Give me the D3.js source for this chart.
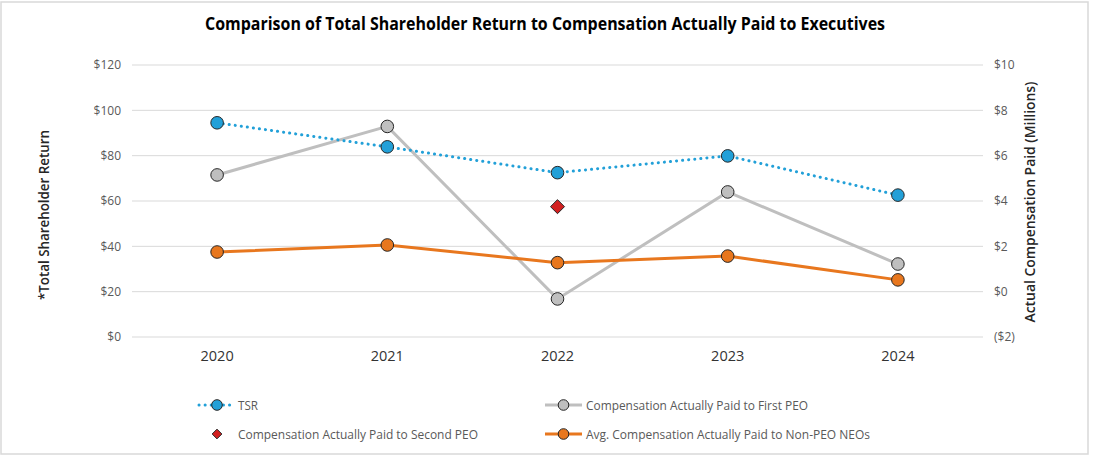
<!DOCTYPE html>
<html><head><meta charset="utf-8">
<script src="https://cdn.jsdelivr.net/npm/d3@7/dist/d3.min.js"></script>
<style>body{margin:0;background:#fff}svg{display:block}</style>
</head><body>
<svg id="chart" width="1096" height="466"></svg>
<script>
const years = ["2020","2021","2022","2023","2024"];
const tsr = [94.5, 83.9, 72.5, 79.9, 62.6];
const firstPEO = [5.15, 7.29, -0.32, 4.4, 1.22];
const secondPEO = [null, null, 3.75, null, null];
const nonPEO = [1.75, 2.06, 1.28, 1.57, 0.52];
const leftTicks = [0,20,40,60,80,100,120];
const rightTicks = [-2,0,2,4,6,8,10];

const svg = d3.select("#chart");
const font = "'Open Sans', sans-serif";
const M = {l:132, r:983, t:65, b:337};

svg.append("rect").attr("x",1).attr("y",2).attr("width",1087).attr("height",452)
  .attr("fill","#fff").attr("stroke","#d9d9d9").attr("stroke-width",1.5);

const x = d3.scaleBand().domain(years).range([M.l, M.r]);
const yL = d3.scaleLinear().domain([0,120]).range([M.b, M.t]);
const yR = d3.scaleLinear().domain([-2,10]).range([M.b, M.t]);

// gridlines
svg.append("g").selectAll("line").data(leftTicks).join("line")
  .attr("x1",M.l).attr("x2",M.r).attr("y1",d=>yL(d)).attr("y2",d=>yL(d))
  .attr("stroke","#d9d9d9").attr("stroke-width",1);

// left axis
const gL = svg.append("g").attr("transform",`translate(${M.l},0)`)
  .call(d3.axisLeft(yL).tickValues(leftTicks).tickSize(0).tickPadding(11).tickFormat(d=>"$"+d));
gL.select(".domain").remove();
gL.selectAll("text").attr("font-family",font).attr("font-size",12).attr("fill","#595959");

// right axis
const gR = svg.append("g").attr("transform",`translate(${M.r},0)`)
  .call(d3.axisRight(yR).tickValues(rightTicks).tickSize(0).tickPadding(11)
    .tickFormat(d=> d<0 ? "($"+(-d)+")" : "$"+d));
gR.select(".domain").remove();
gR.selectAll("text").attr("font-family",font).attr("font-size",12).attr("fill","#595959");

// x axis
const gX = svg.append("g").attr("transform",`translate(0,${M.b})`)
  .call(d3.axisBottom(x).tickSize(0).tickPadding(14));
gX.select(".domain").remove();
gX.selectAll("text").attr("font-family",font).attr("font-size",14.5).attr("fill","#333333");

// titles
svg.append("text").attr("x",545).attr("y",30).attr("text-anchor","middle")
  .attr("font-family",font).attr("font-size",17).attr("font-weight","bold").attr("fill","#000")
  .attr("textLength",680).attr("lengthAdjust","spacingAndGlyphs")
  .text("Comparison of Total Shareholder Return to Compensation Actually Paid to Executives");
svg.append("text").attr("transform","translate(49,215) rotate(-90)").attr("text-anchor","middle")
  .attr("font-family",font).attr("font-size",14.5).attr("font-weight",600).attr("fill","#262626")
  .attr("textLength",170).attr("lengthAdjust","spacingAndGlyphs")
  .text("*Total Shareholder Return");
svg.append("text").attr("transform","translate(1035,202) rotate(-90)").attr("text-anchor","middle")
  .attr("font-family",font).attr("font-size",14.5).attr("font-weight",600).attr("fill","#262626")
  .attr("textLength",241).attr("lengthAdjust","spacingAndGlyphs")
  .text("Actual Compensation Paid (Millions)");

const cx = d=>x(d)+x.bandwidth()/2;
const lineL = d3.line().x((d,i)=>cx(years[i])).y(d=>yL(d));
const lineR = d3.line().x((d,i)=>cx(years[i])).y(d=>yR(d));

const cGrey="#bfbfbf", cBlue="#22a0d8", cOrange="#e8771e", cRed="#d21f1f", cStroke="#262626";

svg.append("path").attr("d",lineR(firstPEO)).attr("fill","none").attr("stroke",cGrey).attr("stroke-width",3);
svg.append("path").attr("d",lineR(nonPEO)).attr("fill","none").attr("stroke",cOrange).attr("stroke-width",3);
svg.append("path").attr("d",lineL(tsr)).attr("fill","none").attr("stroke",cBlue).attr("stroke-width",3)
  .attr("stroke-dasharray","0.1 6").attr("stroke-linecap","round");

function dots(data, scale, color){
  svg.append("g").selectAll("circle").data(data).join("circle")
    .attr("cx",(d,i)=>cx(years[i])).attr("cy",d=>scale(d)).attr("r",6.3)
    .attr("fill",color).attr("stroke",cStroke).attr("stroke-width",1);
}
dots(firstPEO, yR, cGrey);
dots(nonPEO, yR, cOrange);
dots(tsr, yL, cBlue);

const diamond = d3.symbol().type(d3.symbolDiamond2).size(125);
svg.append("g").selectAll("path").data(secondPEO.map((v,i)=>({v,i})).filter(d=>d.v!==null)).join("path")
  .attr("d",diamond).attr("transform",d=>`translate(${cx(years[d.i])},${yR(d.v)})`)
  .attr("fill",cRed).attr("stroke",cStroke).attr("stroke-width",1);

// legend
const lg = svg.append("g").attr("font-family",font).attr("font-size",13).attr("fill","#595959");
function legText(tx,y0,label,len){
  lg.append("text").attr("x",tx).attr("y",y0).attr("dy","0.35em")
    .attr("textLength",len).attr("lengthAdjust","spacingAndGlyphs").text(label);
}
function legLine(x0,x1,y0,color,dash,label,tx,len){
  lg.append("line").attr("x1",x0).attr("x2",x1).attr("y1",y0).attr("y2",y0)
    .attr("stroke",color).attr("stroke-width",3)
    .attr("stroke-dasharray",dash?"0.1 6":null).attr("stroke-linecap",dash?"round":"butt");
  lg.append("circle").attr("cx",(x0+x1)/2).attr("cy",y0).attr("r",5.3)
    .attr("fill",color).attr("stroke",cStroke).attr("stroke-width",1);
  legText(tx,y0,label,len);
}
legLine(199,235,405,cBlue,true,"TSR",238,20);
legLine(545,582,405,cGrey,false,"Compensation Actually Paid to First PEO",586,222);
legLine(545,582,434,cOrange,false,"Avg. Compensation Actually Paid to Non-PEO NEOs",586,284);
lg.append("path").attr("d",d3.symbol().type(d3.symbolDiamond2).size(60))
  .attr("transform","translate(217,434)").attr("fill",cRed).attr("stroke",cStroke).attr("stroke-width",1);
legText(238,434,"Compensation Actually Paid to Second PEO",240);
</script>
</body></html>
